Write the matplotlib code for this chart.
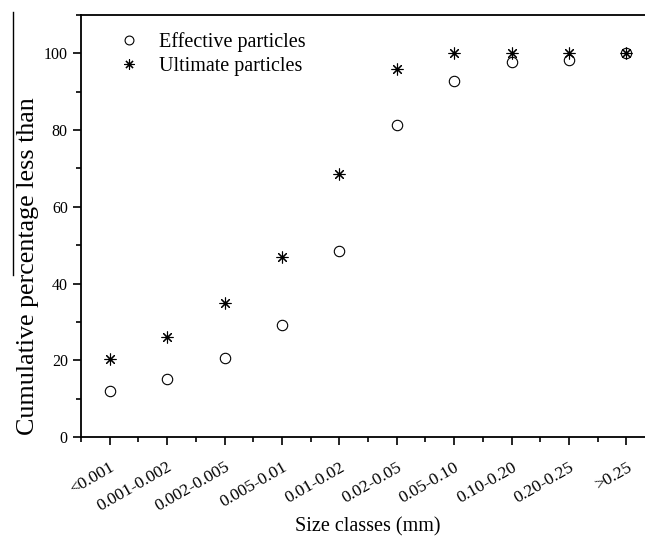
import matplotlib
matplotlib.use("Agg")
import matplotlib.pyplot as plt
from matplotlib.ticker import MultipleLocator, FixedLocator
from matplotlib.lines import Line2D

categories = ["<0.001", "0.001-0.002", "0.002-0.005", "0.005-0.01", "0.01-0.02",
              "0.02-0.05", "0.05-0.10", "0.10-0.20", "0.20-0.25", ">0.25"]
effective = [11.9, 15.1, 20.5, 29.1, 48.6, 81.3, 92.7, 97.7, 98.4, 100.0]
ultimate = [20.3, 26.0, 34.8, 46.8, 68.6, 95.8, 100.0, 100.0, 100.0, 100.0]

plt.rcParams['font.family'] = ['Liberation Serif', 'DejaVu Serif']

fig = plt.figure(figsize=(6.45, 5.38), dpi=100)
W, H = 645, 538
left, right, top, bottom = 81, 655, 15, 437
ax = fig.add_axes([left / W, 1 - bottom / H, (right - left) / W, (bottom - top) / H])

x = list(range(len(categories)))
ax.plot(x, effective, linestyle='none', marker='o', markersize=7.5,
        markerfacecolor='none', markeredgecolor='black', markeredgewidth=0.8,
        label='Effective particles')
ax.plot(x, ultimate, linestyle='none', marker=(8, 2, 0), markersize=8.5,
        color='black', markeredgewidth=0.8, label='Ultimate particles')

ax.set_xlim(-0.5, len(categories) - 0.5)
ax.set_ylim(0, 110)
ax.set_xticks(x)
ax.set_xticklabels(categories, rotation=30, ha='right', rotation_mode='anchor', fontsize=12.5)
ax.xaxis.set_minor_locator(FixedLocator([i + 0.5 for i in range(-1, len(categories))]))
ax.set_yticks([0, 20, 40, 60, 80, 100])
ax.yaxis.set_minor_locator(MultipleLocator(10))
ax.tick_params(axis='both', which='major', direction='out', length=6, width=1.2)
ax.tick_params(axis='y', which='major', labelsize=11.5)
ax.tick_params(axis='both', which='minor', direction='out', length=3.5, width=1.2)
ax.tick_params(axis='x', which='major', pad=10)

for s in ['left', 'bottom', 'top']:
    ax.spines[s].set_linewidth(1.3)
ax.spines['right'].set_visible(False)

ax.set_xlabel('Size classes (mm)', fontsize=14.5)
ax.xaxis.set_label_coords(0.50, -0.19)
ax.set_ylabel('Cumulative percentage less than', fontsize=18.7)
ax.yaxis.set_label_coords(-0.073, 0.405)

# overline decoration on the y label, as in the original
fig.add_artist(Line2D([13 / W, 13 / W], [1 - 12 / H, 1 - 275 / H], color='black', linewidth=1.0))

ax.legend(loc='upper left', bbox_to_anchor=(0.035, 0.978), frameon=False, fontsize=14.5,
          handletextpad=0.5, labelspacing=0.25, borderaxespad=0.0, markerscale=0.85)

fig.savefig('out.png', dpi=100)
